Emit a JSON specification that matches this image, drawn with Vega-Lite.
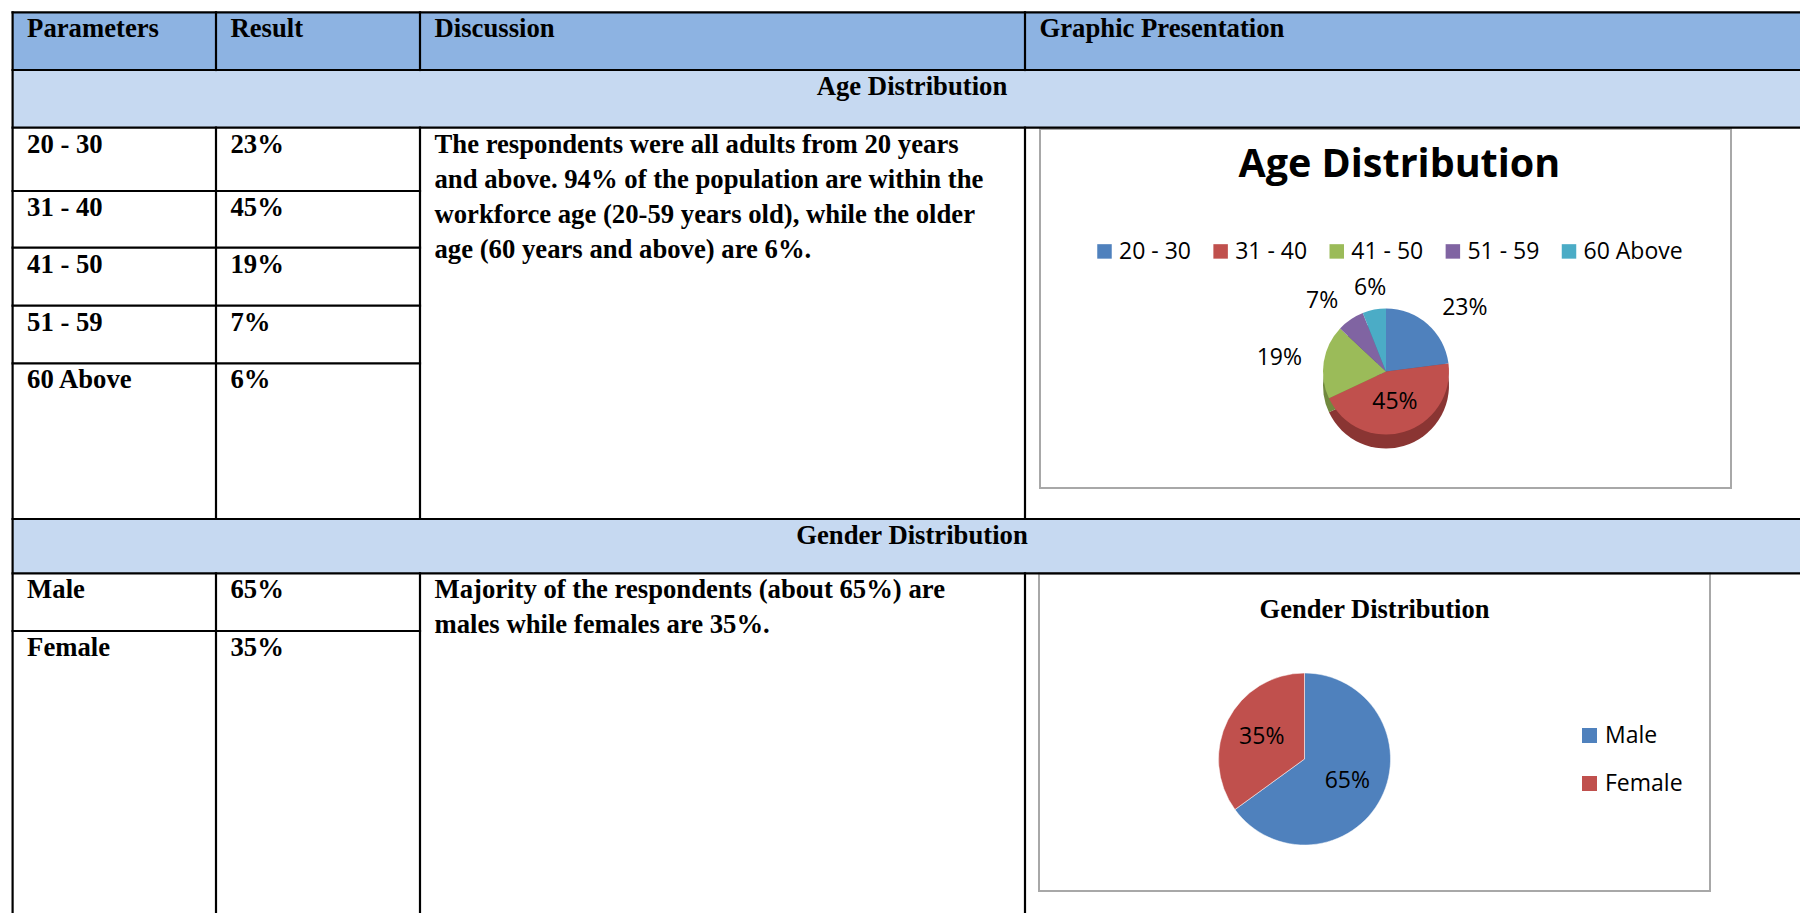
{
  "$schema": "https://vega.github.io/schema/vega-lite/v6.json",
  "width": 1800,
  "height": 913,
  "autosize": {"type": "fit", "contains": "padding"},
  "padding": 0,
  "background": "#ffffff",
  "config": {"view": {"stroke": null}, "axis": {"disable": true}, "legend": {"disable": true}},
  "datasets": {
    "fills": [
      {"c0": 0, "c1": 4, "r0": 0, "r1": 1, "kind": "header"},
      {"c0": 0, "c1": 4, "r0": 1, "r1": 2, "kind": "band"},
      {"c0": 0, "c1": 4, "r0": 7, "r1": 8, "kind": "band"}
    ],
    "hlines": [
      {"c0": 0, "c1": 4, "r0": 0}, {"c0": 0, "c1": 4, "r0": 1}, {"c0": 0, "c1": 4, "r0": 2},
      {"c0": 0, "c1": 2, "r0": 3}, {"c0": 0, "c1": 2, "r0": 4}, {"c0": 0, "c1": 2, "r0": 5},
      {"c0": 0, "c1": 2, "r0": 6}, {"c0": 0, "c1": 4, "r0": 7}, {"c0": 0, "c1": 4, "r0": 8},
      {"c0": 0, "c1": 2, "r0": 9}
    ],
    "vlines": [
      {"c0": 0, "r0": 0, "r1": 10},
      {"c0": 1, "r0": 0, "r1": 1}, {"c0": 1, "r0": 2, "r1": 7}, {"c0": 1, "r0": 8, "r1": 10},
      {"c0": 2, "r0": 0, "r1": 1}, {"c0": 2, "r0": 2, "r1": 7}, {"c0": 2, "r0": 8, "r1": 10},
      {"c0": 3, "r0": 0, "r1": 1}, {"c0": 3, "r0": 2, "r1": 7}, {"c0": 3, "r0": 8, "r1": 10}
    ],
    "cells": [
      {"r0": 0, "c0": 0, "text": "Parameters"},
      {"r0": 0, "c0": 1, "text": "Result"},
      {"r0": 0, "c0": 2, "text": "Discussion"},
      {"r0": 0, "c0": 3, "text": "Graphic Presentation"},
      {"r0": 2, "c0": 0, "text": "20 - 30"}, {"r0": 2, "c0": 1, "text": "23%"},
      {"r0": 3, "c0": 0, "text": "31 - 40"}, {"r0": 3, "c0": 1, "text": "45%"},
      {"r0": 4, "c0": 0, "text": "41 - 50"}, {"r0": 4, "c0": 1, "text": "19%"},
      {"r0": 5, "c0": 0, "text": "51 - 59"}, {"r0": 5, "c0": 1, "text": "7%"},
      {"r0": 6, "c0": 0, "text": "60 Above"}, {"r0": 6, "c0": 1, "text": "6%"},
      {"r0": 2, "c0": 2, "text": "The respondents were all adults from 20 years\nand above. 94% of the population are within the\nworkforce age (20-59 years old), while the older\nage (60 years and above) are 6%."},
      {"r0": 8, "c0": 0, "text": "Male"}, {"r0": 8, "c0": 1, "text": "65%"},
      {"r0": 9, "c0": 0, "text": "Female"}, {"r0": 9, "c0": 1, "text": "35%"},
      {"r0": 8, "c0": 2, "text": "Majority of the respondents (about 65%) are\nmales while females are 35%."}
    ],
    "bands": [
      {"r0": 1, "text": "Age Distribution"},
      {"r0": 7, "text": "Gender Distribution"}
    ],
    "age": [
      {"group": "20 - 30", "share": 0.23, "k": 1},
      {"group": "31 - 40", "share": 0.45, "k": 2},
      {"group": "41 - 50", "share": 0.19, "k": 3},
      {"group": "51 - 59", "share": 0.07, "k": 4},
      {"group": "60 Above", "share": 0.06, "k": 5}
    ],
    "gender": [
      {"group": "Male", "share": 0.65, "k": 1},
      {"group": "Female", "share": 0.35, "k": 2}
    ]
  },
  "resolve": {"scale": {"x": "independent", "y": "independent", "color": "independent", "theta": "independent"}},
  "layer": [
    {
      "data": {"name": "fills"},
      "mark": {"type": "rect"},
      "encoding": {
        "x": {"field": "c0", "type": "quantitative", "scale": {"type": "linear", "domain": [0, 1, 2, 3, 4], "range": [12.6, 216, 420, 1025, 1800], "nice": false, "zero": false}},
        "x2": {"field": "c1"},
        "y": {"field": "r0", "type": "quantitative", "scale": {"type": "linear", "domain": [0, 1, 2, 3, 4, 5, 6, 7, 8, 9, 10], "range": [12.3, 70, 127.7, 191, 247.7, 305.7, 363.3, 519, 573.3, 631, 913], "nice": false, "zero": false}},
        "y2": {"field": "r1"},
        "color": {"field": "kind", "type": "nominal", "scale": {"domain": ["header", "band"], "range": ["#8DB3E2", "#C6D9F1"]}}
      }
    },
    {
      "data": {"values": [{"title": "Age Distribution"}]},
      "mark": {"type": "rect", "fill": "#ffffff", "stroke": "#A8A8A8", "strokeWidth": 2},
      "encoding": {
        "x": {"datum": 0, "type": "quantitative", "scale": {"domain": [0, 1], "range": [1040, 1731], "nice": false, "zero": false}},
        "x2": {"datum": 1},
        "y": {"datum": 0, "type": "quantitative", "scale": {"domain": [0, 1], "range": [129, 488], "nice": false, "zero": false}},
        "y2": {"datum": 1}
      }
    },
    {
      "data": {"values": [{"title": "Age Distribution"}]},
      "mark": {"type": "text", "font": "Open Sans", "fontWeight": "bold", "fontSize": 39.5, "align": "center", "baseline": "alphabetic", "color": "#000000"},
      "encoding": {
        "x": {"datum": 0.52, "type": "quantitative", "scale": {"domain": [0, 1], "range": [1040, 1731], "nice": false, "zero": false}},
        "y": {"datum": 0.1337, "type": "quantitative", "scale": {"domain": [0, 1], "range": [129, 488], "nice": false, "zero": false}},
        "text": {"field": "title", "type": "nominal"}
      }
    },
    {
      "data": {"name": "age"},
      "mark": {"type": "point", "shape": "square", "filled": true, "size": 210, "opacity": 1},
      "encoding": {
        "x": {"field": "group", "type": "nominal", "scale": {"type": "point", "domain": ["20 - 30", "31 - 40", "41 - 50", "51 - 59", "60 Above"], "range": [1104.5, 1569], "padding": 0}},
        "y": {"datum": 0.341, "type": "quantitative", "scale": {"domain": [0, 1], "range": [129, 488], "nice": false, "zero": false}},
        "color": {"field": "group", "type": "nominal", "scale": {"domain": ["20 - 30", "31 - 40", "41 - 50", "51 - 59", "60 Above"], "range": ["#4F81BD", "#C0504D", "#9BBB59", "#8064A2", "#4BACC6"]}}
      }
    },
    {
      "data": {"name": "age"},
      "mark": {"type": "text", "font": "Open Sans", "fontSize": 23, "align": "left", "baseline": "alphabetic", "dx": 14.5, "color": "#000000"},
      "encoding": {
        "x": {"field": "group", "type": "nominal", "scale": {"type": "point", "domain": ["20 - 30", "31 - 40", "41 - 50", "51 - 59", "60 Above"], "range": [1104.5, 1569], "padding": 0}},
        "y": {"datum": 0.361, "type": "quantitative", "scale": {"domain": [0, 1], "range": [129, 488], "nice": false, "zero": false}},
        "text": {"field": "group", "type": "nominal"}
      }
    },
    {
      "data": {"name": "age"},
      "mark": {"type": "arc", "outerRadius": 63},
      "encoding": {
        "x": {"datum": 0.5007, "type": "quantitative", "scale": {"domain": [0, 1], "range": [1040, 1731], "nice": false, "zero": false}},
        "y": {"datum": 0.7145, "type": "quantitative", "scale": {"domain": [0, 1], "range": [129, 488], "nice": false, "zero": false}},
        "theta": {"field": "share", "type": "quantitative", "stack": true},
        "order": {"field": "k", "type": "quantitative"},
        "color": {"field": "group", "type": "nominal", "scale": {"domain": ["20 - 30", "31 - 40", "41 - 50", "51 - 59", "60 Above"], "range": ["#3B6190", "#8A3533", "#71893F", "#5D4878", "#347E92"]}}
      }
    },
    {
      "data": {"name": "age"},
      "mark": {"type": "arc", "outerRadius": 63},
      "encoding": {
        "x": {"datum": 0.5007, "type": "quantitative", "scale": {"domain": [0, 1], "range": [1040, 1731], "nice": false, "zero": false}},
        "y": {"datum": 0.6755, "type": "quantitative", "scale": {"domain": [0, 1], "range": [129, 488], "nice": false, "zero": false}},
        "theta": {"field": "share", "type": "quantitative", "stack": true},
        "order": {"field": "k", "type": "quantitative"},
        "color": {"field": "group", "type": "nominal", "scale": {"domain": ["20 - 30", "31 - 40", "41 - 50", "51 - 59", "60 Above"], "range": ["#4F81BD", "#C0504D", "#9BBB59", "#8064A2", "#4BACC6"]}}
      }
    },
    {
      "data": {"name": "age"},
      "mark": {"type": "text", "radius": 85, "font": "Open Sans", "fontSize": 23, "baseline": "middle", "color": "#000000",
        "align": {"expr": "sin(PI * (datum.share_start + datum.share_end)) > 0.3 ? 'left' : (sin(PI * (datum.share_start + datum.share_end)) < -0.3 ? 'right' : 'center')"}},
      "encoding": {
        "x": {"datum": 0.5007, "type": "quantitative", "scale": {"domain": [0, 1], "range": [1040, 1731], "nice": false, "zero": false}},
        "y": {"datum": 0.6755, "type": "quantitative", "scale": {"domain": [0, 1], "range": [129, 488], "nice": false, "zero": false}},
        "theta": {"field": "share", "type": "quantitative", "stack": true},
        "order": {"field": "k", "type": "quantitative"},
        "text": {"condition": {"test": "datum.share < 0.4", "field": "share", "type": "quantitative", "format": ".0%"}, "value": ""}
      }
    },
    {
      "data": {"name": "age"},
      "mark": {"type": "text", "radius": 32, "font": "Open Sans", "fontSize": 23, "align": "center", "baseline": "middle", "color": "#000000"},
      "encoding": {
        "x": {"datum": 0.5007, "type": "quantitative", "scale": {"domain": [0, 1], "range": [1040, 1731], "nice": false, "zero": false}},
        "y": {"datum": 0.6755, "type": "quantitative", "scale": {"domain": [0, 1], "range": [129, 488], "nice": false, "zero": false}},
        "theta": {"field": "share", "type": "quantitative", "stack": true},
        "order": {"field": "k", "type": "quantitative"},
        "text": {"condition": {"test": "datum.share >= 0.4", "field": "share", "type": "quantitative", "format": ".0%"}, "value": ""}
      }
    },
    {
      "data": {"values": [{"title": "Gender Distribution"}]},
      "mark": {"type": "rect", "fill": "#ffffff", "stroke": "#A8A8A8", "strokeWidth": 2},
      "encoding": {
        "x": {"datum": 0, "type": "quantitative", "scale": {"domain": [0, 1], "range": [1039, 1710], "nice": false, "zero": false}},
        "x2": {"datum": 1},
        "y": {"datum": 0, "type": "quantitative", "scale": {"domain": [0, 1], "range": [573.5, 891], "nice": false, "zero": false}},
        "y2": {"datum": 1}
      }
    },
    {
      "data": {"values": [{"title": "Gender Distribution"}]},
      "mark": {"type": "text", "font": "Liberation Serif", "fontWeight": "bold", "fontSize": 26.5, "align": "center", "baseline": "alphabetic", "color": "#000000"},
      "encoding": {
        "x": {"datum": 0.5, "type": "quantitative", "scale": {"domain": [0, 1], "range": [1039, 1710], "nice": false, "zero": false}},
        "y": {"datum": 0.14, "type": "quantitative", "scale": {"domain": [0, 1], "range": [573.5, 891], "nice": false, "zero": false}},
        "text": {"field": "title", "type": "nominal"}
      }
    },
    {
      "data": {"name": "gender"},
      "mark": {"type": "arc", "outerRadius": 86, "stroke": "#ffffff", "strokeWidth": 0.5},
      "encoding": {
        "x": {"datum": 0.3957, "type": "quantitative", "scale": {"domain": [0, 1], "range": [1039, 1710], "nice": false, "zero": false}},
        "y": {"datum": 0.5843, "type": "quantitative", "scale": {"domain": [0, 1], "range": [573.5, 891], "nice": false, "zero": false}},
        "theta": {"field": "share", "type": "quantitative", "stack": true},
        "order": {"field": "k", "type": "quantitative"},
        "color": {"field": "group", "type": "nominal", "scale": {"domain": ["Male", "Female"], "range": ["#4F81BD", "#C0504D"]}}
      }
    },
    {
      "data": {"name": "gender"},
      "mark": {"type": "text", "radius": 48, "font": "Open Sans", "fontSize": 23, "align": "center", "baseline": "middle", "color": "#000000"},
      "encoding": {
        "x": {"datum": 0.3957, "type": "quantitative", "scale": {"domain": [0, 1], "range": [1039, 1710], "nice": false, "zero": false}},
        "y": {"datum": 0.5843, "type": "quantitative", "scale": {"domain": [0, 1], "range": [573.5, 891], "nice": false, "zero": false}},
        "theta": {"field": "share", "type": "quantitative", "stack": true},
        "order": {"field": "k", "type": "quantitative"},
        "text": {"field": "share", "type": "quantitative", "format": ".0%"}
      }
    },
    {
      "data": {"name": "gender"},
      "mark": {"type": "point", "shape": "square", "filled": true, "size": 225, "opacity": 1},
      "encoding": {
        "x": {"datum": 0.8204, "type": "quantitative", "scale": {"domain": [0, 1], "range": [1039, 1710], "nice": false, "zero": false}},
        "y": {"field": "group", "type": "nominal", "scale": {"type": "point", "domain": ["Male", "Female"], "range": [735.5, 783.5], "padding": 0}},
        "color": {"field": "group", "type": "nominal", "scale": {"domain": ["Male", "Female"], "range": ["#4F81BD", "#C0504D"]}}
      }
    },
    {
      "data": {"name": "gender"},
      "mark": {"type": "text", "font": "Open Sans", "fontSize": 23, "align": "left", "baseline": "alphabetic", "dx": 15.5, "dy": 7.5, "color": "#000000"},
      "encoding": {
        "x": {"datum": 0.8204, "type": "quantitative", "scale": {"domain": [0, 1], "range": [1039, 1710], "nice": false, "zero": false}},
        "y": {"field": "group", "type": "nominal", "scale": {"type": "point", "domain": ["Male", "Female"], "range": [735.5, 783.5], "padding": 0}},
        "text": {"field": "group", "type": "nominal"}
      }
    },
    {
      "data": {"name": "hlines"},
      "mark": {"type": "rule", "color": "#000000", "strokeWidth": 2.2, "strokeCap": "square"},
      "encoding": {
        "x": {"field": "c0", "type": "quantitative", "scale": {"type": "linear", "domain": [0, 1, 2, 3, 4], "range": [12.6, 216, 420, 1025, 1800], "nice": false, "zero": false}},
        "x2": {"field": "c1"},
        "y": {"field": "r0", "type": "quantitative", "scale": {"type": "linear", "domain": [0, 1, 2, 3, 4, 5, 6, 7, 8, 9, 10], "range": [12.3, 70, 127.7, 191, 247.7, 305.7, 363.3, 519, 573.3, 631, 913], "nice": false, "zero": false}}
      }
    },
    {
      "data": {"name": "vlines"},
      "mark": {"type": "rule", "color": "#000000", "strokeWidth": 2.2, "strokeCap": "square"},
      "encoding": {
        "x": {"field": "c0", "type": "quantitative", "scale": {"type": "linear", "domain": [0, 1, 2, 3, 4], "range": [12.6, 216, 420, 1025, 1800], "nice": false, "zero": false}},
        "y": {"field": "r0", "type": "quantitative", "scale": {"type": "linear", "domain": [0, 1, 2, 3, 4, 5, 6, 7, 8, 9, 10], "range": [12.3, 70, 127.7, 191, 247.7, 305.7, 363.3, 519, 573.3, 631, 913], "nice": false, "zero": false}},
        "y2": {"field": "r1"}
      }
    },
    {
      "data": {"name": "cells"},
      "mark": {"type": "text", "font": "Liberation Serif", "fontWeight": "bold", "fontSize": 26.7, "align": "left", "baseline": "alphabetic", "dx": 14.5, "dy": 25, "lineBreak": "\n", "lineHeight": 35, "color": "#000000"},
      "encoding": {
        "x": {"field": "c0", "type": "quantitative", "scale": {"type": "linear", "domain": [0, 1, 2, 3, 4], "range": [12.6, 216, 420, 1025, 1800], "nice": false, "zero": false}},
        "y": {"field": "r0", "type": "quantitative", "scale": {"type": "linear", "domain": [0, 1, 2, 3, 4, 5, 6, 7, 8, 9, 10], "range": [12.3, 70, 127.7, 191, 247.7, 305.7, 363.3, 519, 573.3, 631, 913], "nice": false, "zero": false}},
        "text": {"field": "text", "type": "nominal"}
      }
    },
    {
      "data": {"name": "bands"},
      "mark": {"type": "text", "font": "Liberation Serif", "fontWeight": "bold", "fontSize": 26.7, "align": "center", "baseline": "alphabetic", "dy": 25, "color": "#000000"},
      "encoding": {
        "x": {"datum": 0.5, "type": "quantitative", "scale": {"domain": [0, 1], "range": [12.6, 1811.4], "nice": false, "zero": false}},
        "y": {"field": "r0", "type": "quantitative", "scale": {"type": "linear", "domain": [0, 1, 2, 3, 4, 5, 6, 7, 8, 9, 10], "range": [12.3, 70, 127.7, 191, 247.7, 305.7, 363.3, 519, 573.3, 631, 913], "nice": false, "zero": false}},
        "text": {"field": "text", "type": "nominal"}
      }
    }
  ]
}
